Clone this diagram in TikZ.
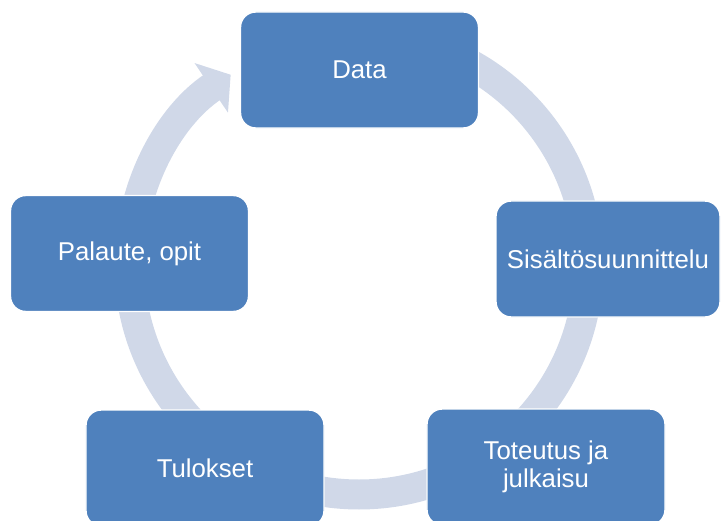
\documentclass[tikz,border=0pt]{standalone}
\usepackage{fontspec}
\setmainfont{Liberation Sans}
\usetikzlibrary{arrows.meta}
\definecolor{sininen}{RGB}{79,129,189}
\definecolor{harmaa}{RGB}{208,216,232}

\begin{document}
\begin{tikzpicture}[x=0.03cm, y=0.03cm,
  every node/.style={font=\fontsize{22}{24}\selectfont, text=white},
  laatikko/.style={rectangle, rounded corners=13pt, draw=white, line width=1.2pt, fill=sininen, align=center, minimum width=7.14cm, minimum height=3.48cm, inner sep=2pt},
  kierto/.style={draw=harmaa, line width=25.6pt, -{Triangle[length=20pt, width=50pt]}}]
\useasboundingbox (0,0) rectangle (725,520);
\coordinate (keski) at (359,255);
\draw[kierto] (keski) ++(90:229.5) arc[start angle=90, end angle=-236, radius=229.5];
\node[laatikko] (data) at (359.5,450) {Data};
\node[laatikko, minimum width=6.72cm] (sisalto) at (608,261) {Sisältösuunnittelu};
\node[laatikko] (toteutus) at (546,53) {Toteutus ja\\julkaisu};
\node[laatikko] (tulokset) at (205,52) {Tulokset};
\node[laatikko] (palaute) at (129.5,266.5) {Palaute, opit};
\end{tikzpicture}
\end{document}
